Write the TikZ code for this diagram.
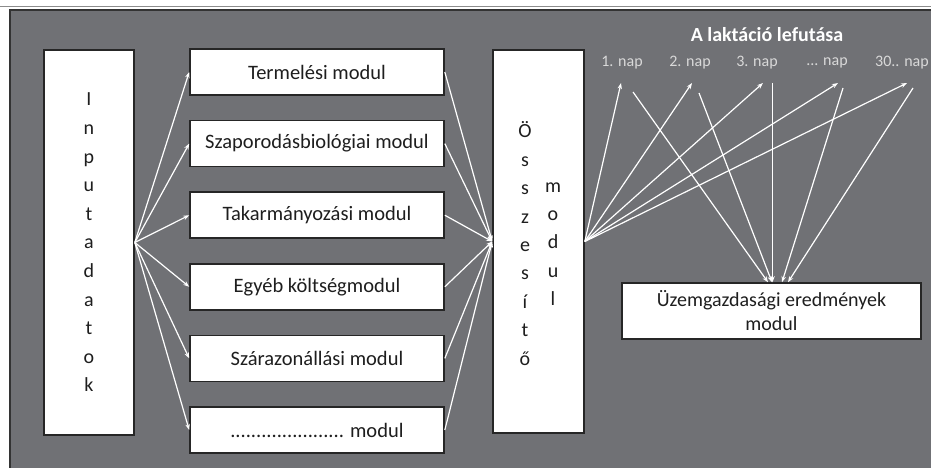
\documentclass[tikz,border=0pt]{standalone}
\usepackage{fontspec}
\setmainfont{Carlito}
\usepackage{tikz}
\usetikzlibrary{calc}
\usetikzlibrary{positioning}
\usetikzlibrary{arrows.meta}

\definecolor{panelgray}{RGB}{112,113,117}
\definecolor{boxline}{RGB}{38,38,38}
\definecolor{boxtext}{RGB}{30,30,30}

\begin{document}
\begin{tikzpicture}[x=1pt, y=-1pt,
    modbox/.style={rectangle, draw=boxline, line width=1.6pt, fill=white, minimum width=254pt, minimum height=46pt, inner sep=0pt, text=boxtext, font=\fontsize{20.5}{24}\selectfont},
    tallbox/.style={rectangle, draw=boxline, line width=1.6pt, fill=white, minimum width=90pt, minimum height=385pt, inner sep=0pt, align=center, text=boxtext, font=\fontsize{20}{28.6}\selectfont},
    coltext/.style={align=center, inner sep=0pt, text=boxtext, font=\fontsize{20}{28.4}\selectfont},
    naplabel/.style={inner sep=0pt, text=white!85!black, font=\fontsize{16}{18}\selectfont},
    flow/.style={draw=white, line width=1.2pt, -{Stealth[length=6pt, width=4.5pt]}}]
    \useasboundingbox (0,0) rectangle (931,468);
    \fill [white] (0,0) rectangle (931,468);
    \draw [black!45, line width=0.6pt] (0,6.5) -- (931,6.5);
    \draw [black!80, line width=1.6pt, fill=panelgray] (10,10) rectangle (945,480);

    % input and module boxes
    \node [tallbox] (inputadatok) at (89,242.5) {I\\n\\p\\u\\t\\a\\d\\a\\t\\o\\k};
    \node [modbox] (termelesi) at (317,72) {Termelési modul};
    \node [modbox, below=24pt of termelesi] (szaporodas) {Szaporodásbiológiai modul};
    \node [modbox, below=24pt of szaporodas] (takarmany) {Takarmányozási modul};
    \node [modbox, below=24pt of takarmany] (egyeb) {Egyéb költségmodul};
    \node [modbox, below=24pt of egyeb] (szarazon) {Szárazonállási modul};
    \node [modbox, below=24pt of szarazon] (tovabbi) {...................... modul};

    % summary box
    \node [tallbox, minimum width=91pt, minimum height=383pt] (osszesito) at (538.5,241.5) {};
    \node [coltext] (osszesitoA) at (525,243.5) {Ö\\s\\s\\z\\e\\s\\í\\t\\ő};
    \node [coltext] (osszesitoB) at (553,244) {m\\o\\d\\u\\l};

    % lactation days
    \node [text=white, font=\bfseries\fontsize{20}{24}\selectfont, inner sep=0pt] (laktacio) at (767,35) {A laktáció lefutása};
    \node [naplabel] (nap1) at (622,63) {1. nap};
    \node [naplabel] (nap2) at (690,63) {2. nap};
    \node [naplabel] (nap3) at (757,63) {3. nap};
    \node [naplabel] (nap4) at (827,63) {... nap};
    \node [naplabel] (nap5) at (902,63) {30.. nap};

    \node [rectangle, draw=boxline, line width=1.6pt, fill=white, minimum width=299pt, minimum height=56pt, inner sep=0pt, align=center, text=boxtext, font=\fontsize{20}{24}\selectfont] (uzem) at (771.5,311) {Üzemgazdasági eredmények\\modul};

    \coordinate (napin1) at (621,83);
    \coordinate (napin2) at (692,83);
    \coordinate (napin3) at (763,83);
    \coordinate (napin4) at (838,83);
    \coordinate (napin5) at (907,83);
    \coordinate (napout1) at (633,92);
    \coordinate (napout2) at (699,93);
    \coordinate (napout3) at (772.5,83);
    \coordinate (napout4) at (843,88);
    \coordinate (napout5) at (913,88);

    \foreach \m in {termelesi,szaporodas,takarmany,egyeb,szarazon,tovabbi}
        \draw [flow] (inputadatok.east) -- (\m.west);
    \foreach \m in {termelesi,szaporodas,takarmany,egyeb,szarazon,tovabbi}
        \draw [flow] (\m.east) -- (osszesito.west);
    \foreach \i in {1,...,5}
        \draw [flow] (osszesito.east) -- (napin\i);
    \foreach \i/\dx in {1/-3.5,2/0.5,3/1,4/10.5,5/16.5}
        \draw [flow] (napout\i) -- ($(uzem.north)+(\dx,0)$);
\end{tikzpicture}
\end{document}
